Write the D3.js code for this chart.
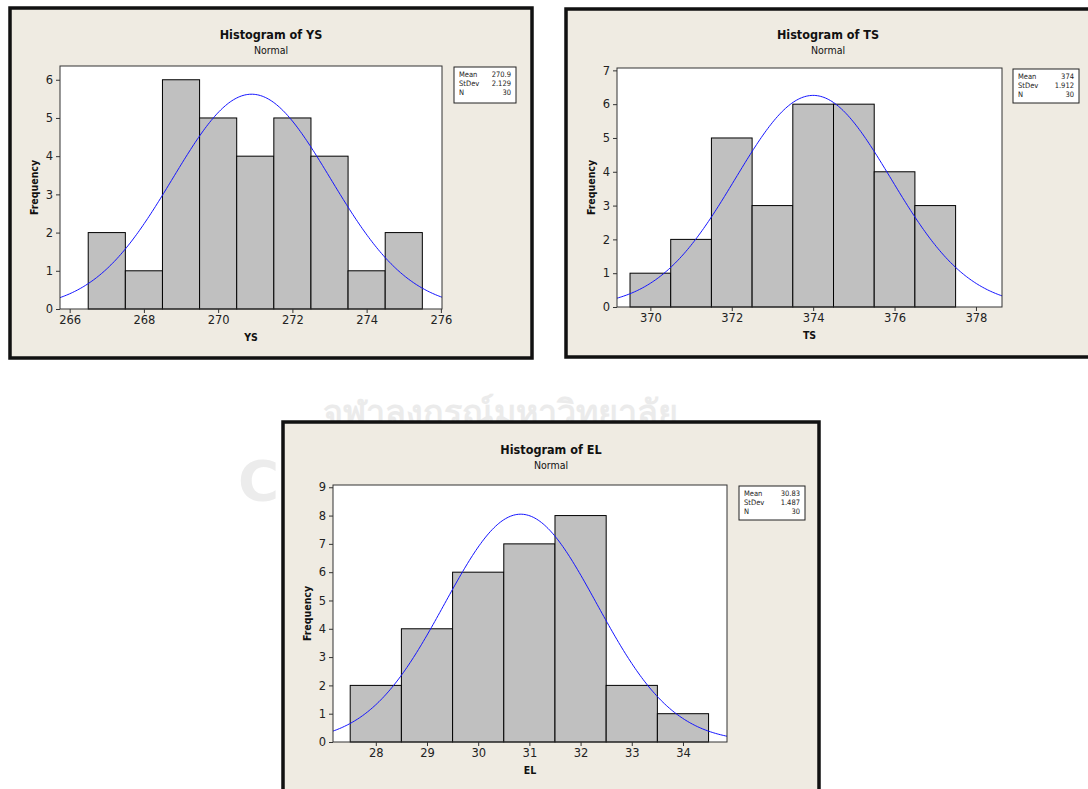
<!DOCTYPE html>
<html>
<head>
<meta charset="utf-8">
<script src="https://cdn.jsdelivr.net/npm/d3@7"></script>
<style>
  body { margin: 0; background: #fff; }
  svg { display: block; font-family: 'DejaVu Sans Condensed', 'DejaVu Sans', sans-serif; }
</style>
</head>
<body>
<svg id="chart" width="1088" height="789"></svg>
<script>
// YS
const ysBins = [267, 268, 269, 270, 271, 272, 273, 274, 275]
const ysCounts = [2, 1, 6, 5, 4, 5, 4, 1, 2]
const ysXTicks = [266, 268, 270, 272, 274, 276]
const ysYTicks = [0, 1, 2, 3, 4, 5, 6]
const ysStats = [270.9, 2.129, 30]
const ysStatLabels = ['270.9', '2.129', '30']

// TS
const tsBins = [370, 371, 372, 373, 374, 375, 376, 377]
const tsCounts = [1, 2, 5, 3, 6, 6, 4, 3]
const tsXTicks = [370, 372, 374, 376, 378]
const tsYTicks = [0, 1, 2, 3, 4, 5, 6, 7]
const tsStats = [374, 1.912, 30]
const tsStatLabels = ['374', '1.912', '30']

// EL
const elBins = [28, 29, 30, 31, 32, 33, 34]
const elCounts = [2, 4, 6, 7, 8, 2, 1]
const elXTicks = [28, 29, 30, 31, 32, 33, 34]
const elYTicks = [0, 1, 2, 3, 4, 5, 6, 7, 8, 9]
const elStats = [30.83, 1.487, 30]
const elStatLabels = ['30.83', '1.487', '30']

const statNames = ['Mean', 'StDev', 'N']

const svg = d3.select('#chart')

// 背景水印
// =======
svg.append('text')
  .attr('x', 500).attr('y', 424)
  .attr('text-anchor', 'middle')
  .attr('font-size', 34)
  .attr('font-weight', 'bold')
  .attr('fill', '#ebebeb')
  .attr('font-family', "'Noto Sans', 'DejaVu Sans', sans-serif")
  .text('จุฬาลงกรณ์มหาวิทยาลัย')

svg.append('text')
  .attr('x', 238).attr('y', 500)
  .attr('font-size', 56)
  .attr('font-weight', 'bold')
  .attr('fill', '#ececec')
  .attr('font-family', "'DejaVu Sans', sans-serif")
  .text('C')

/**
 * 绘制一个直方图面板
 * @param  {Object} selection 选择集对象
 * @param  {Object} opt       相关属性
 * @return {void}
 */
function drawHistogram(selection, opt) {
  const f = opt.frame
  const p = opt.plot
  const g = selection.append('g')

  // 外框
  g.append('rect')
    .attr('x', f.x).attr('y', f.y)
    .attr('width', f.w).attr('height', f.h)
    .attr('fill', '#efebe2')
    .attr('stroke', '#111')
    .attr('stroke-width', 3.5)

  // 标题
  g.append('text')
    .attr('x', f.x + f.w / 2).attr('y', opt.titleY)
    .attr('dy', '.35em')
    .attr('text-anchor', 'middle')
    .attr('font-size', 12.5)
    .attr('font-weight', 'bold')
    .attr('fill', '#111')
    .text(opt.title)

  g.append('text')
    .attr('x', f.x + f.w / 2).attr('y', opt.titleY + 15)
    .attr('dy', '.35em')
    .attr('text-anchor', 'middle')
    .attr('font-size', 10.5)
    .attr('fill', '#111')
    .text('Normal')

  // 绘图区
  g.append('rect')
    .attr('x', p.l).attr('y', p.t)
    .attr('width', p.r - p.l).attr('height', p.b - p.t)
    .attr('fill', '#fff')

  const x = d3.scaleLinear().domain(opt.xDomain).range([p.l, p.r])
  const y = d3.scaleLinear().domain(opt.yDomain).range([p.b, p.t])

  const clipId = 'clip-' + opt.name
  g.append('clipPath').attr('id', clipId)
    .append('rect')
    .attr('x', p.l).attr('y', p.t)
    .attr('width', p.r - p.l).attr('height', p.b - p.t)

  // 柱子
  g.append('g')
    .selectAll('rect')
    .data(opt.bins)
    .enter()
    .append('rect')
    .attr('x', d => x(d - 0.5))
    .attr('y', (d, i) => y(opt.counts[i]))
    .attr('width', d => x(d + 0.5) - x(d - 0.5))
    .attr('height', (d, i) => y(0) - y(opt.counts[i]))
    .attr('fill', '#c0c0c0')
    .attr('stroke', '#000')
    .attr('stroke-width', 1)

  // 正态拟合曲线
  const [mean, sd, n] = opt.stats
  const pdf = v => n * Math.exp(-0.5 * ((v - mean) / sd) ** 2) / (sd * Math.sqrt(2 * Math.PI))
  const xs = d3.range(0, 241).map(i => opt.xDomain[0] + i * (opt.xDomain[1] - opt.xDomain[0]) / 240)
  g.append('path')
    .attr('clip-path', `url(#${clipId})`)
    .attr('d', d3.line().x(d => x(d)).y(d => y(pdf(d)))(xs))
    .attr('fill', 'none')
    .attr('stroke', '#1414ff')
    .attr('stroke-width', 1)

  // 绘图区边框
  g.append('rect')
    .attr('x', p.l).attr('y', p.t)
    .attr('width', p.r - p.l).attr('height', p.b - p.t)
    .attr('fill', 'none')
    .attr('stroke', '#333')
    .attr('stroke-width', 1)

  // 坐标轴
  const fmt = d3.format('d')
  const xAxis = g.append('g')
    .attr('transform', `translate(0,${p.b})`)
    .call(d3.axisBottom(x).tickValues(opt.xTicks).tickFormat(fmt).tickSize(4).tickSizeOuter(0).tickPadding(3))
  const yAxis = g.append('g')
    .attr('transform', `translate(${p.l},0)`)
    .call(d3.axisLeft(y).tickValues(opt.yTicks).tickFormat(fmt).tickSize(4).tickSizeOuter(0).tickPadding(3))

  ;[xAxis, yAxis].forEach(a => {
    a.select('.domain').remove()
    a.selectAll('line').attr('stroke', '#333')
    a.selectAll('text')
      .attr('font-size', 11.5)
      .attr('fill', '#222')
      .attr('font-family', "'DejaVu Sans', sans-serif")
  })

  // 坐标轴标题
  g.append('text')
    .attr('x', (p.l + p.r) / 2).attr('y', p.b + 28)
    .attr('dy', '.35em')
    .attr('text-anchor', 'middle')
    .attr('font-size', 10.5)
    .attr('font-weight', 'bold')
    .attr('fill', '#111')
    .text(opt.name)

  g.append('text')
    .attr('transform', `translate(${p.l - 26},${(p.t + p.b) / 2}) rotate(-90)`)
    .attr('dy', '.35em')
    .attr('text-anchor', 'middle')
    .attr('font-size', 10.5)
    .attr('font-weight', 'bold')
    .attr('fill', '#111')
    .text('Frequency')

  // 图例
  const lg = opt.legend
  g.append('rect')
    .attr('x', lg.x).attr('y', lg.y)
    .attr('width', lg.w).attr('height', lg.h)
    .attr('fill', '#fff')
    .attr('stroke', '#222')
    .attr('stroke-width', 1)

  statNames.forEach((s, i) => {
    const ty = lg.y + 7.5 + i * 9
    g.append('text')
      .attr('x', lg.x + 5).attr('y', ty)
      .attr('dy', '.35em')
      .attr('font-size', 7.5)
      .attr('fill', '#222')
      .text(s)
    g.append('text')
      .attr('x', lg.x + lg.w - 5).attr('y', ty)
      .attr('dy', '.35em')
      .attr('text-anchor', 'end')
      .attr('font-size', 7.5)
      .attr('fill', '#222')
      .text(opt.statLabels[i])
  })
}

svg.call(drawHistogram, {
  name: 'YS', title: 'Histogram of YS', titleY: 35,
  frame: { x: 10, y: 8, w: 522, h: 350 },
  plot: { l: 60, r: 442, t: 66, b: 309 },
  xDomain: [265.74, 276.03], yDomain: [0, 6.36],
  bins: ysBins, counts: ysCounts, xTicks: ysXTicks, yTicks: ysYTicks,
  stats: ysStats, statLabels: ysStatLabels,
  legend: { x: 454, y: 67, w: 62, h: 36 }
})

svg.call(drawHistogram, {
  name: 'TS', title: 'Histogram of TS', titleY: 35,
  frame: { x: 566, y: 9, w: 524, h: 348 },
  plot: { l: 617, r: 1002, t: 68, b: 307 },
  xDomain: [369.18, 378.64], yDomain: [0, 7.07],
  bins: tsBins, counts: tsCounts, xTicks: tsXTicks, yTicks: tsYTicks,
  stats: tsStats, statLabels: tsStatLabels,
  legend: { x: 1013, y: 69, w: 66, h: 34 }
})

svg.call(drawHistogram, {
  name: 'EL', title: 'Histogram of EL', titleY: 450,
  frame: { x: 283, y: 422, w: 536, h: 400 },
  plot: { l: 333, r: 727, t: 485, b: 742 },
  xDomain: [27.164, 34.86], yDomain: [0, 9.08],
  bins: elBins, counts: elCounts, xTicks: elXTicks, yTicks: elYTicks,
  stats: elStats, statLabels: elStatLabels,
  legend: { x: 739, y: 486, w: 66, h: 34 }
})
</script>
</body>
</html>
